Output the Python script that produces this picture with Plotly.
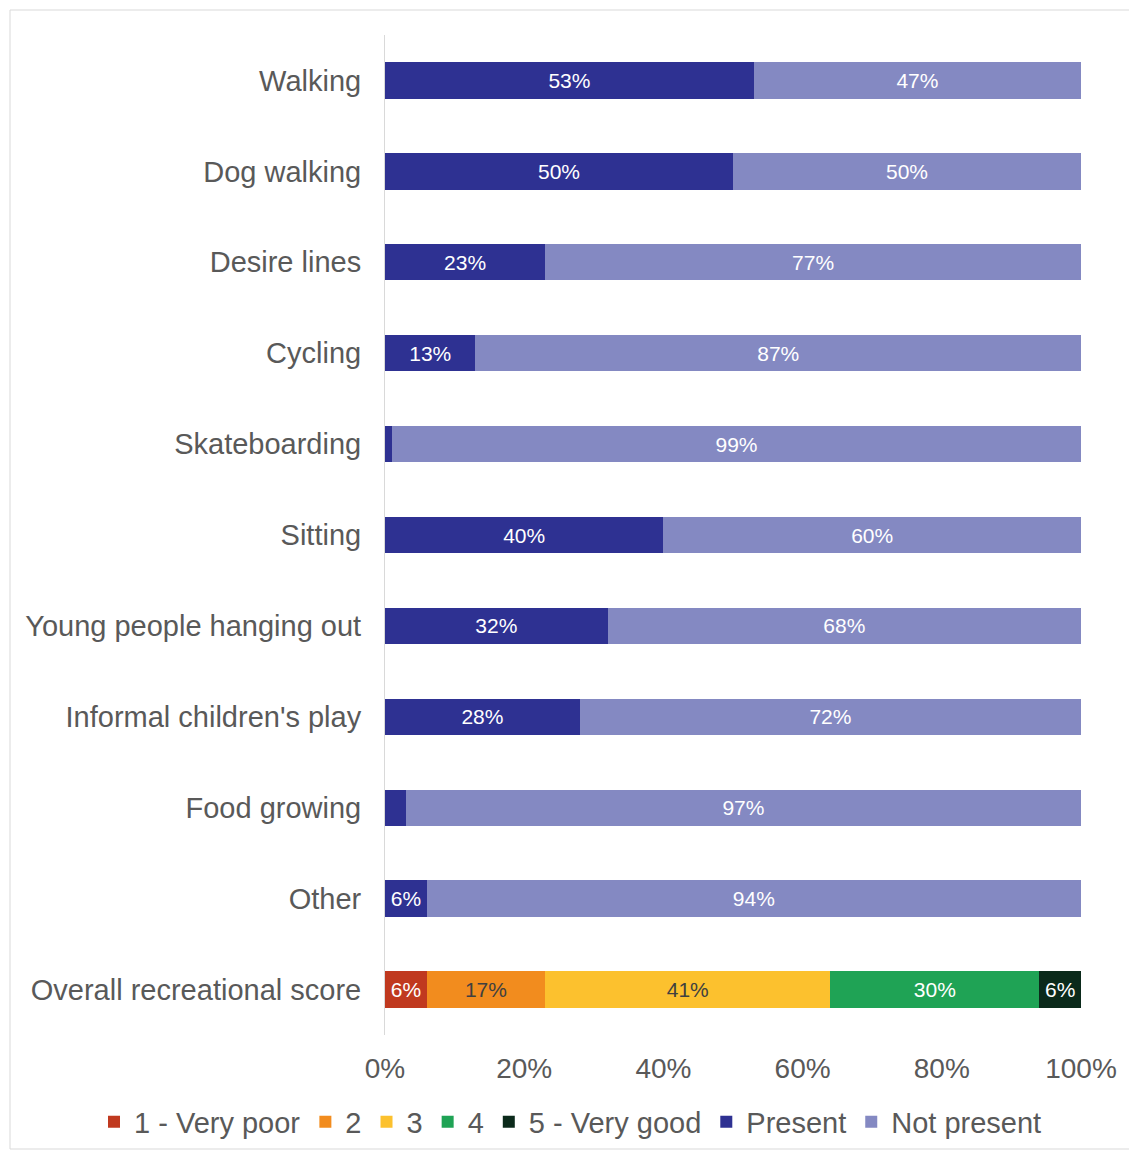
import plotly.graph_objects as go

activities = ["Walking", "Dog walking", "Desire lines", "Cycling", "Skateboarding", "Sitting",
              "Young people hanging out", "Informal children's play", "Food growing", "Other"]
present = [53, 50, 23, 13, 1, 40, 32, 28, 3, 6]
not_present = [47, 50, 77, 87, 99, 60, 68, 72, 97, 94]

score_category = "Overall recreational score"
score_names = ["1 - Very poor", "2", "3", "4", "5 - Very good"]
score_values = [6, 17, 41, 30, 6]
score_colors = ["#C0391F", "#F28C1E", "#FCC12E", "#1FA355", "#0B2A1B"]
score_text_colors = ["white", "#404040", "#404040", "white", "white"]

x_ticks = [0, 20, 40, 60, 80, 100]
x_tick_labels = [f"{t}%" for t in x_ticks]

categories = activities + [score_category]

FONT = "Liberation Sans, Arial, sans-serif"
GRAY = "#595959"

# page body has an 8px default margin; compensate so the plot lands where the reference has it
OFF = 8
L, T, PW, PH = 385 - OFF, 35 - OFF, 696, 1000
R = 1137 - L - PW
B = 1151 - T - PH

def lab(v):
    return f"{v}%" if v >= 5 else ""

fig = go.Figure()
for name, v, c, tc in zip(score_names, score_values, score_colors, score_text_colors):
    fig.add_trace(go.Bar(
        y=[score_category], x=[v], name=name, orientation="h",
        marker=dict(color=c, line=dict(width=0)),
        text=[lab(v)], textposition="inside", insidetextanchor="middle",
        textfont=dict(family=FONT, size=21, color=tc), hoverinfo="skip"))

fig.add_trace(go.Bar(
    y=activities, x=present, name="Present", orientation="h",
    marker=dict(color="#2E3192", line=dict(width=0)),
    text=[lab(v) for v in present], textposition="inside", insidetextanchor="middle",
    textfont=dict(family=FONT, size=21, color="white"), hoverinfo="skip"))
fig.add_trace(go.Bar(
    y=activities, x=not_present, name="Not present", orientation="h",
    marker=dict(color="#8489C2", line=dict(width=0)),
    text=[lab(v) for v in not_present], textposition="inside", insidetextanchor="middle",
    textfont=dict(family=FONT, size=21, color="white"), hoverinfo="skip"))

def py(screen_y):
    return 1 - (screen_y - 35) / PH

def px(screen_x):
    return (screen_x - 385) / PW

fig.update_layout(
    width=1137, height=1151,
    barmode="stack", bargap=0.6,
    paper_bgcolor="white", plot_bgcolor="white",
    margin=dict(l=L, r=R, t=T, b=B, autoexpand=False),
    font=dict(family=FONT, size=29, color=GRAY),
    legend=dict(orientation="h", x=px(94), xanchor="left", y=py(1122), yanchor="middle",
                font=dict(family=FONT, size=29, color=GRAY), traceorder="normal",
                itemwidth=30, tracegroupgap=0, bgcolor="rgba(0,0,0,0)"),
    xaxis=dict(range=[0, 100], tickmode="array", tickvals=x_ticks, ticktext=x_tick_labels,
               showgrid=False, zeroline=False, showline=False, ticks="",
               tickfont=dict(family=FONT, size=28, color=GRAY), ticklabelstandoff=14),
    yaxis=dict(categoryorder="array", categoryarray=categories, autorange="reversed",
               showgrid=False, zeroline=False, showline=True, linecolor="#D9D9D9", linewidth=1,
               ticks="", tickfont=dict(family=FONT, size=29, color=GRAY), ticklabelstandoff=17),
    shapes=[dict(type="rect", xref="paper", yref="paper",
                 x0=px(10), x1=px(1135), y0=py(1149), y1=py(10),
                 line=dict(color="#D9D9D9", width=1), fillcolor="rgba(0,0,0,0)", layer="below")],
)

fig.write_html("out.html")
